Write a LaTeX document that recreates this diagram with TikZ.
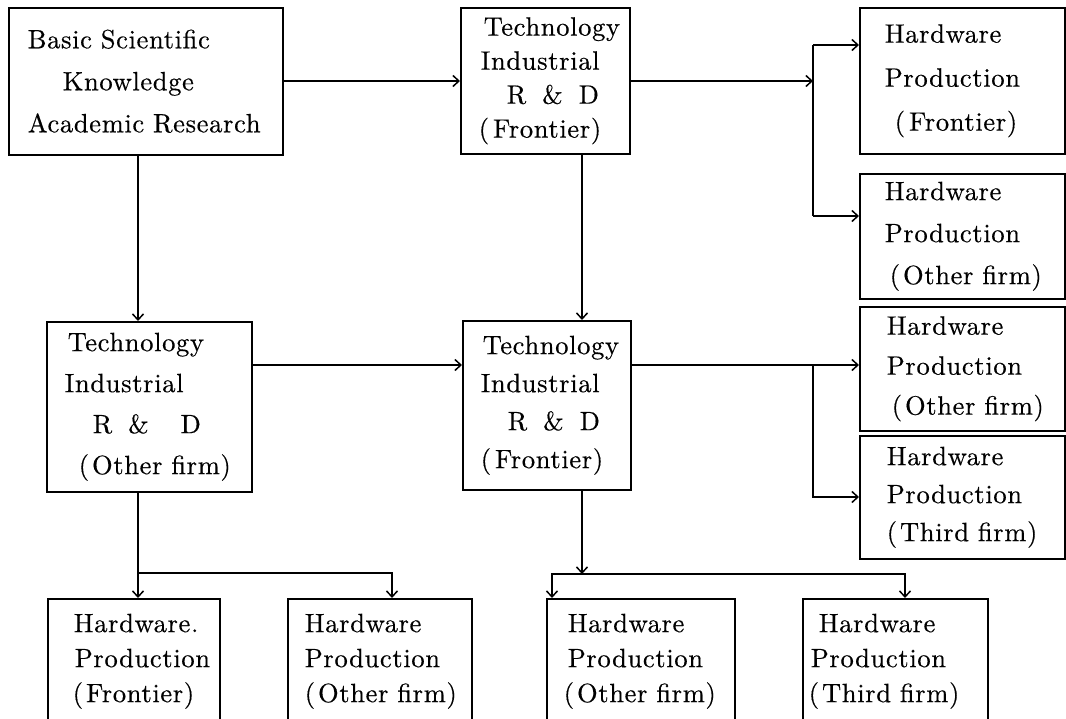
\documentclass[tikz,border=0pt]{standalone}
\usepackage{fontspec}
\usetikzlibrary{arrows.meta}
\newfontfamily\lmw{lmroman10-regular.otf}[LetterSpace=2.5,FakeBold=0.4]
\newcommand\fs[1]{\lmw\fontsize{26.5pt}{#1pt}\selectfont\hyphenpenalty=10000\exhyphenpenalty=10000 }
\newcommand\ii[1]{\hspace*{#1pt}}
\newcommand\gapp{\hspace{0.6em}}
\tikzset{
  box/.style={draw, line width=1.5pt, rectangle, anchor=north west, align=left,
              inner xsep=0pt, inner ysep=0pt},
  bx/.style n args={3}{text width=#1pt, minimum height=#2pt, font=\fs{#3}},
  ln/.style={line width=1.5pt},
  arr/.style={line width=1.5pt, -{Straight Barb[length=6pt,width=11pt]}},
  arrb/.style={line width=1.5pt, {Straight Barb[length=6pt,width=11pt]}-{Straight Barb[length=6pt,width=11pt]}},
}
\begin{document}
\begin{tikzpicture}[x=1pt,y=-1pt]
\useasboundingbox (0,0) rectangle (1066,718);
\clip (0,0) rectangle (1066,718);

% top row
\node[box, bx={274}{147}{42}] (B1) at (8,7)
  {\ii{19}Basic Scientific\\\ii{54}Knowledge\\\ii{19}Academic Research};
\node[box, bx={169}{146}{34}] (B2) at (460,7)
  {\ii{23}Technology\\\ii{20}Industrial\\\ii{46}R\gapp\&\gapp D\\\ii{18}(\kern4pt Frontier)};
\node[box, bx={205}{146}{44}] (B3) at (859,7)
  {\ii{25}Hardware\\\ii{25}Production\\\ii{35}(\kern4pt Frontier)};
\node[box, bx={205}{125}{42}] (B4) at (859,173)
  {\ii{25}Hardware\\\ii{25}Production\\\ii{30}(\kern3pt Other firm)};

% middle row
\node[box, bx={205}{170}{41}] (B5) at (46,321)
  {\ii{21}Technology\\\ii{18}Industrial\\\ii{46}R\gapp\&\gapp\gapp D\\\ii{32}(\kern3pt Other firm)};
\node[box, bx={168}{169}{38}] (B6) at (462,320)
  {\ii{20}Technology\\\ii{18}Industrial\\\ii{45}R\gapp\&\gapp D\\\ii{18}(\kern4pt Frontier)};
\node[box, bx={205}{124}{40}] (B7) at (859,306)
  {\ii{27}Hardware\\\ii{27}Production\\\ii{32}(\kern3pt Other firm)};
\node[box, bx={205}{123}{38}] (B8) at (859,435)
  {\ii{27}Hardware\\\ii{27}Production\\\ii{27}(\kern3pt Third firm)};

% bottom row
\node[box, bx={172}{125}{35}] (B9) at (47,598)
  {\ii{26}Hardware.\\\ii{27}Production\\\ii{25}(\kern3pt Frontier)};
\node[box, bx={184}{125}{35}] (B10) at (287,598)
  {\ii{17}Hardware\\\ii{17}Production\\\ii{17}(\kern3pt Other firm)};
\node[box, bx={188}{125}{35}] (B11) at (546,598)
  {\ii{21}Hardware\\\ii{21}Production\\\ii{17}(\kern3pt Other firm)};
\node[box, bx={185}{125}{35}] (B12) at (802,598)
  {\ii{16}Hardware\\\ii{8}Production\\\ii{6}(\kern3pt Third firm)};

% junction coordinates
\coordinate (v1) at (138,0);
\coordinate (v2) at (582,0);
\coordinate (j1) at (813,81);
\coordinate (j1a) at (813,45);
\coordinate (j1b) at (813,216);
\coordinate (j2) at (813,365);
\coordinate (j2b) at (813,497);
\coordinate (h1) at (138,573);
\coordinate (h1b) at (392,573);
\coordinate (h2) at (582,574);
\coordinate (h2a) at (552,574);
\coordinate (h2b) at (905,574);

% connectors
\draw[arr] (B1.east |- j1) -- (B2.west |- j1);
\draw[arr] (B2.east |- j1) -- (j1);
\draw[ln] (j1a) -- (j1b);
\draw[arr] (j1a) -- (B3.west |- j1a);
\draw[arr] (j1b) -- (B4.west |- j1b);
\draw[arr] (B1.south -| v1) -- (B5.north -| v1);
\draw[arr] (B2.south -| v2) -- (B6.north -| v2);
\draw[arr] (B5.east |- j2) -- (B6.west |- j2);
\draw[arr] (B6.east |- j2) -- (B7.west |- j2);
\draw[arr] (j2) |- (B8.west |- j2b);
\draw[arr] (B5.south -| v1) -- (B9.north -| v1);
\draw[arr] (h1) -| (B10.north -| h1b);
\draw[arr] (B6.south -| v2) -- (h2);
\draw[arrb] (B11.north -| h2a) |- (h2b) -- (B12.north -| h2b);
\end{tikzpicture}
\end{document}
